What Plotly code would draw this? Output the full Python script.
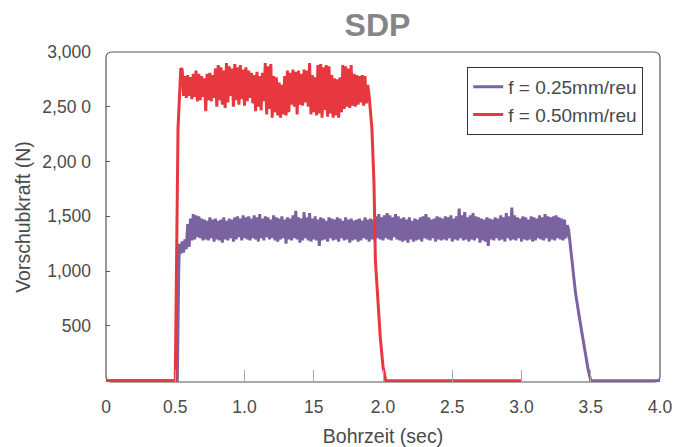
import numpy as np
import plotly.graph_objects as go

# ---------------- data ----------------
series_names = ["f = 0.25mm/reu", "f = 0.50mm/reu"]
series_colors = ["#7B62A0", "#E8383F"]

# sampling step of the recorded force signal (sec)
sample_step = 0.01

# f = 0.25 : leading edge, noisy plateau (starts at 0.53 s), trailing edge
f025_lead_t = [0.0, 0.515, 0.525]
f025_lead_v = [0, 0, 1000]
f025_plateau_start = 0.53
f025_plateau_v = [
    1250, 1160, 1270, 1170, 1290, 1200, 1430, 1220, 1480, 1280,
    1520, 1290, 1510, 1310, 1500, 1300, 1480, 1280, 1470, 1290,
    1460, 1280, 1490, 1300, 1470, 1270, 1480, 1290, 1460, 1280,
    1470, 1260, 1490, 1290, 1460, 1280, 1480, 1300, 1470, 1270,
    1490, 1290, 1500, 1310, 1480, 1280, 1510, 1300, 1490, 1290,
    1500, 1280, 1480, 1300, 1510, 1290, 1490, 1270, 1520, 1300,
    1480, 1280, 1500, 1310, 1490, 1290, 1470, 1300, 1510, 1280,
    1490, 1270, 1480, 1290, 1500, 1300, 1470, 1250, 1490, 1290,
    1480, 1280, 1510, 1300, 1550, 1290, 1490, 1260, 1480, 1280,
    1540, 1300, 1490, 1280, 1530, 1270, 1480, 1290, 1500, 1280,
    1470, 1230, 1490, 1280, 1480, 1290, 1460, 1270, 1490, 1300,
    1480, 1280, 1470, 1290, 1490, 1270, 1480, 1300, 1460, 1280,
    1490, 1290, 1470, 1260, 1480, 1280, 1460, 1290, 1470, 1270,
    1480, 1280, 1460, 1300, 1490, 1290, 1470, 1270, 1480, 1290,
    1470, 1280, 1500, 1300, 1520, 1290, 1490, 1280, 1510, 1300,
    1530, 1290, 1510, 1280, 1490, 1310, 1520, 1290, 1500, 1280,
    1480, 1270, 1490, 1280, 1470, 1260, 1490, 1290, 1460, 1270,
    1480, 1280, 1470, 1290, 1490, 1270, 1500, 1300, 1520, 1290,
    1490, 1280, 1470, 1300, 1480, 1270, 1500, 1290, 1490, 1280,
    1480, 1290, 1500, 1280, 1490, 1300, 1510, 1270, 1480, 1290,
    1500, 1280, 1570, 1300, 1510, 1280, 1540, 1290, 1490, 1270,
    1510, 1290, 1530, 1280, 1500, 1300, 1490, 1260, 1480, 1280,
    1470, 1270, 1490, 1230, 1480, 1290, 1470, 1280, 1490, 1300,
    1480, 1280, 1510, 1290, 1490, 1270, 1530, 1300, 1500, 1280,
    1580, 1290, 1510, 1280, 1490, 1300, 1480, 1270, 1500, 1290,
    1490, 1280, 1470, 1290, 1500, 1270, 1490, 1280, 1480, 1300,
    1510, 1290, 1490, 1280, 1520, 1300, 1500, 1270, 1490, 1290,
    1500, 1280, 1510, 1300, 1490, 1290, 1480, 1280, 1470, 1300,
    1420,
]
f025_trail_t = [3.34, 3.36, 3.37, 3.39, 3.42, 3.45, 3.48, 3.50, 4.0]
f025_trail_v = [1380, 1150, 1000, 800, 560, 320, 110, 0, 0]

# f = 0.50 : leading edge, noisy plateau (starts at 0.55 s), trailing edge
f050_lead_t = [0.0, 0.50, 0.52, 0.54]
f050_lead_v = [0, 0, 2300, 2850]
f050_plateau_start = 0.55
f050_plateau_v = [
    2840, 2600, 2780, 2580, 2790, 2600, 2770, 2570, 2800, 2590,
    2830, 2550, 2800, 2560, 2780, 2590, 2760, 2460, 2800, 2560,
    2810, 2550, 2790, 2580, 2850, 2500, 2880, 2560, 2860, 2520,
    2830, 2490, 2900, 2540, 2870, 2600, 2850, 2500, 2890, 2560,
    2860, 2520, 2880, 2570, 2840, 2510, 2860, 2550, 2830, 2580,
    2810, 2530, 2790, 2460, 2820, 2500, 2780, 2470, 2810, 2550,
    2900, 2430, 2870, 2480, 2890, 2400, 2780, 2450, 2770, 2420,
    2720, 2400, 2700, 2430, 2780, 2420, 2830, 2450, 2810, 2520,
    2840, 2500, 2820, 2430, 2830, 2520, 2800, 2510, 2840, 2540,
    2830, 2500, 2900, 2430, 2790, 2450, 2770, 2420, 2880, 2440,
    2890, 2400, 2860, 2470, 2880, 2410, 2870, 2440, 2790, 2400,
    2760, 2420, 2750, 2400, 2770, 2450, 2880, 2480, 2870, 2500,
    2850, 2490, 2880, 2510, 2800, 2500, 2790, 2520, 2780, 2540,
    2790, 2510, 2780, 2530, 2700, 2600,
]
f050_trail_t = [1.92, 1.935, 1.945, 1.96, 1.98, 2.00, 2.02, 3.0]
f050_trail_v = [2300, 1800, 1100, 750, 400, 130, 0, 0]

x_tick_vals = [0, 0.5, 1.0, 1.5, 2.0, 2.5, 3.0, 3.5, 4.0]
x_tick_text = ["0", "0.5", "1.0", "15", "2.0", "2.5", "3.0", "3.5", "4.0"]
y_tick_vals = [500, 1000, 1500, 2000, 2500, 3000]
y_tick_text = ["500", "1,000", "1,500", "2,00 0", "2,50 0", "3,000"]

title_text = "SDP"
x_title = "Bohrzeit (sec)"
y_title = "Vorschubkraft (N)"


def assemble(lead_t, lead_v, start, plateau_v, trail_t, trail_v):
    pt = np.round(start + sample_step * np.arange(len(plateau_v)), 3)
    t = list(lead_t) + list(pt) + list(trail_t)
    v = list(lead_v) + list(plateau_v) + list(trail_v)
    return t, v


t1, v1 = assemble(f025_lead_t, f025_lead_v, f025_plateau_start, f025_plateau_v,
                  f025_trail_t, f025_trail_v)
t2, v2 = assemble(f050_lead_t, f050_lead_v, f050_plateau_start, f050_plateau_v,
                  f050_trail_t, f050_trail_v)

FONT = "Liberation Sans, Arial, sans-serif"
TXT = "#4a4a4a"
fig = go.Figure()
for (t, v), name, col in zip([(t1, v1), (t2, v2)], series_names, series_colors):
    fig.add_trace(go.Scatter(x=t, y=v, mode="lines", name=name,
                             line=dict(color=col, width=3)))

# rounded plot frame
rx, ry = 0.011, 0.018
frame = (f"M {rx},0 L {1-rx},0 Q 1,0 1,{ry} L 1,{1-ry} Q 1,1 {1-rx},1 "
         f"L {rx},1 Q 0,1 0,{1-ry} L 0,{ry} Q 0,0 {rx},0 Z")
fig.add_shape(type="path", path=frame, xref="paper", yref="paper",
              line=dict(color="#555555", width=1.2), layer="below")

# the page body adds an 8 px offset, so the figure is sized to the remaining window
W, H = 675, 439
fig.update_layout(
    width=W, height=H,
    margin=dict(l=98, r=23, t=44, b=65, autoexpand=False),
    paper_bgcolor="white", plot_bgcolor="white",
    font=dict(family=FONT, color=TXT, size=17),
    title=dict(text=title_text, x=0.49, xref="paper", y=1 - 17 / H,
               yref="container", xanchor="center", yanchor="middle",
               automargin=False,
               font=dict(family=FONT, size=32, color="#858585", weight="bold")),
    showlegend=True,
    legend=dict(x=0.652, y=0.955, xanchor="left", yanchor="top",
                bordercolor="#333333", borderwidth=1, bgcolor="white",
                font=dict(family=FONT, size=19, color=TXT),
                tracegroupgap=0, itemwidth=30),
    xaxis=dict(range=[0, 4], tickvals=x_tick_vals, ticktext=x_tick_text,
               ticks="inside", ticklen=12, tickcolor="#aaaaaa", tickwidth=1,
               showgrid=False, zeroline=False, showline=False, automargin=False,
               ticklabelstandoff=12,
               title=dict(text=x_title, standoff=18,
                          font=dict(family=FONT, size=19.5, color=TXT)),
               tickfont=dict(family=FONT, size=17.5, color=TXT)),
    yaxis=dict(range=[-12, 3000], tickvals=y_tick_vals, ticktext=y_tick_text,
               ticks="inside", ticklen=4, tickcolor="#555555", tickwidth=1,
               showgrid=False, zeroline=False, showline=False, automargin=False,
               ticklabelstandoff=14,
               title=dict(text=y_title, standoff=6,
                          font=dict(family=FONT, size=19.5, color=TXT)),
               tickfont=dict(family=FONT, size=17.5, color=TXT)),
)

fig.write_html("out.html")
